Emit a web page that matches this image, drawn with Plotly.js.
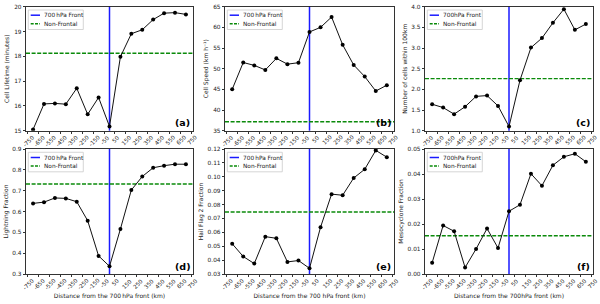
<!DOCTYPE html>
<html><head><meta charset="utf-8">
<script src="https://cdn.plot.ly/plotly-3.0.1.min.js"></script>
<style>html,body{margin:0;padding:0;background:#fff}#chart{width:600px;height:304px}</style>
</head><body><div id="chart"></div>
<script>
// ---- data ----
const distance = [-700,-600,-500,-400,-300,-200,-100,0,100,200,300,400,500,600,700];
const tickVals = [-750,-650,-550,-450,-350,-250,-150,-50,50,150,250,350,450,550,650,750];
const tickLabels = ['-750','-650','-550','-450','-350','-250','-150','-50','50','150','250','350','450','550','650','750'];
const frontPosition = 0;

const cellLifetime = [15.05,16.08,16.1,16.07,16.71,15.66,16.34,15.17,17.98,18.91,19.07,19.48,19.74,19.76,19.69];
const cellSpeed = [45.0,51.5,50.8,49.7,52.5,51.1,51.45,58.9,60.0,62.5,55.8,50.9,48.1,44.6,46.0];
const cellsWithin100km = [1.64,1.56,1.40,1.58,1.83,1.85,1.60,1.10,2.22,3.01,3.24,3.61,3.94,3.44,3.58];
const lightningFraction = [0.639,0.645,0.665,0.663,0.647,0.556,0.387,0.337,0.516,0.703,0.768,0.810,0.820,0.827,0.827];
const hailFlag2Fraction = [0.0518,0.0426,0.0375,0.0569,0.0557,0.0387,0.0397,0.0341,0.0637,0.0875,0.0867,0.0991,0.1054,0.119,0.1141];
const mesocycloneFraction = [0.0045,0.0194,0.0171,0.0026,0.0100,0.0182,0.0104,0.0251,0.0277,0.0401,0.0353,0.0435,0.0469,0.0481,0.0449];
const nonFrontalValues = [18.12,37.15,2.26,0.732,0.0746,0.0153];

const panelLabels = ['(a)','(b)','(c)','(d)','(e)','(f)'];
const yTitles = ['Cell Lifetime (minutes)','Cell Speed (km h\u207B\u00B9)','Number of cells within 100km','Lightning Fraction','Hail Flag 2 Fraction','Mesocyclone Fraction'];
const xTitles = ['Distance from the 700\u2009hPa front (km)','Distance from the 700 hPa front (km)','Distance from the 700hPa front (km)'];
const frontLegend = ['700\u2009hPa Front','700\u2009hPa Front','700hPa Front','700\u2009hPa Front','700\u2009hPa Front','700hPa Front'];
const nonFrontalLegend = 'Non-Frontal';

// ---- layout helpers ----
const W = 600, H = 304;
const cols = [[26,193],[225,394],[425,593]];
const rows = [[6.7,130.7],[149,274]];
const px = x => x / W, py = y => 1 - y / H;
const series = [cellLifetime,cellSpeed,cellsWithin100km,lightningFraction,hailFlag2Fraction,mesocycloneFraction];
const yCfg = [
  {range:[15,20], tick0:15, dtick:1, fmt:'d'},
  {range:[35,65], tick0:35, dtick:5, fmt:'d'},
  {range:[1,4], tick0:1, dtick:0.5, fmt:'.1f'},
  {range:[0.3,0.9], tick0:0.3, dtick:0.1, fmt:'.1f'},
  {range:[0.03,0.12], tick0:0.03, dtick:0.01, fmt:'.2f'},
  {range:[0,0.05], tick0:0, dtick:0.01, fmt:'.2f'}
];
const FONT = 'DejaVu Sans, Liberation Sans, sans-serif';
const TXT = '#222';
const data = [], shapes = [], annotations = [];
const layout = {
  width: W, height: H, margin: {l:0,r:0,t:0,b:0},
  paper_bgcolor: '#fff', plot_bgcolor: '#fff', showlegend: false,
  font: {family: FONT, size: 6, color: TXT}
};

for (let i = 0; i < 6; i++) {
  const r = Math.floor(i / 3), c = i % 3;
  const n = i === 0 ? '' : String(i + 1);
  const xa = 'x' + n, ya = 'y' + n;
  const L = cols[c][0], R = cols[c][1], T = rows[r][0], B = rows[r][1];
  const xaxis = {
    domain: [px(L), px(R)], anchor: ya, range: [-765, 765],
    tickmode: 'array', tickvals: tickVals, showticklabels: false,
    ticks: 'outside', ticklen: 2.5, tickwidth: 0.8, tickcolor: '#000',
    showline: true, linecolor: '#000', linewidth: 0.8, mirror: true,
    showgrid: false, zeroline: false
  };
  if (r === 1) xaxis.title = {text: xTitles[c], font: {size: 6, color: TXT}, standoff: 17};
  layout['xaxis' + n] = xaxis;
  const yc = yCfg[i];
  layout['yaxis' + n] = {
    domain: [py(B), py(T)], anchor: xa, range: yc.range,
    tickmode: 'linear', tick0: yc.tick0, dtick: yc.dtick, tickformat: yc.fmt,
    ticks: 'outside', ticklen: 2.5, tickwidth: 0.8, tickcolor: '#000',
    tickfont: {size: 5.8, color: TXT},
    showline: true, linecolor: '#000', linewidth: 0.8, mirror: true,
    showgrid: false, zeroline: false,
    title: {text: yTitles[i], font: {size: 6, color: TXT}, standoff: 3}
  };
  data.push({
    type: 'scatter', mode: 'lines+markers', x: distance, y: series[i],
    xaxis: xa, yaxis: ya, line: {color: '#111', width: 1},
    marker: {color: '#000', size: 4}, hoverinfo: 'x+y'
  });
  // front line & non-frontal line
  shapes.push({type:'line', layer:'below', xref: xa, yref: ya + ' domain', x0: frontPosition, x1: frontPosition, y0: 0, y1: 1,
    line: {color: '#1a1aff', width: 1.5}});
  shapes.push({type:'line', layer:'below', xref: xa + ' domain', yref: ya, x0: 0, x1: 1, y0: nonFrontalValues[i], y1: nonFrontalValues[i],
    line: {color: '#0a8a0a', width: 1.4, dash: '4px,1.6px'}});
  // x tick labels (rotated, centred on tick)
  tickVals.forEach((v, k) => {
    annotations.push({xref: xa, yref: ya + ' domain', x: v, y: 0, yshift: -3.5, xshift: 1,
      xanchor: 'center', yanchor: 'top', textangle: -45, text: tickLabels[k],
      showarrow: false, borderpad: 0, borderwidth: 0, font: {size: 5.6, color: TXT}});
  });
  // legend
  const lx = L + 2.3, ly = T + 3.3;
  shapes.push({type:'rect', xref:'paper', yref:'paper', x0: px(lx), x1: px(lx + 55), y0: py(ly + 19.5), y1: py(ly),
    line: {color: '#cccccc', width: 0.8}, fillcolor: 'rgba(255,255,255,0.8)'});
  const e1 = T + 8.5, e2 = T + 17;
  shapes.push({type:'line', xref:'paper', yref:'paper', x0: px(L + 4.7), x1: px(L + 14), y0: py(e1), y1: py(e1),
    line: {color: '#1a1aff', width: 1.5}});
  shapes.push({type:'line', xref:'paper', yref:'paper', x0: px(L + 4.7), x1: px(L + 14), y0: py(e2), y1: py(e2),
    line: {color: '#0a8a0a', width: 1.4, dash: '3px,1.3px'}});
  annotations.push({xref:'paper', yref:'paper', x: px(L + 17.3), y: py(e1), xanchor:'left', yanchor:'middle',
    text: frontLegend[i], showarrow:false, borderpad:0, font:{size:5.8, color: TXT}});
  annotations.push({xref:'paper', yref:'paper', x: px(L + 17.3), y: py(e2), xanchor:'left', yanchor:'middle',
    text: nonFrontalLegend, showarrow:false, borderpad:0, font:{size:5.8, color: TXT}});
  // panel label
  annotations.push({xref:'paper', yref:'paper', x: px(R - 2.5), y: py(B - 8), xanchor:'right', yanchor:'middle',
    text: '<b>' + panelLabels[i] + '</b>', showarrow:false, borderpad:0, font:{size:9.5, color: '#000'}});
}
layout.shapes = shapes;
layout.annotations = annotations;
Plotly.newPlot('chart', data, layout, {displayModeBar: false, staticPlot: true});
</script></body></html>
